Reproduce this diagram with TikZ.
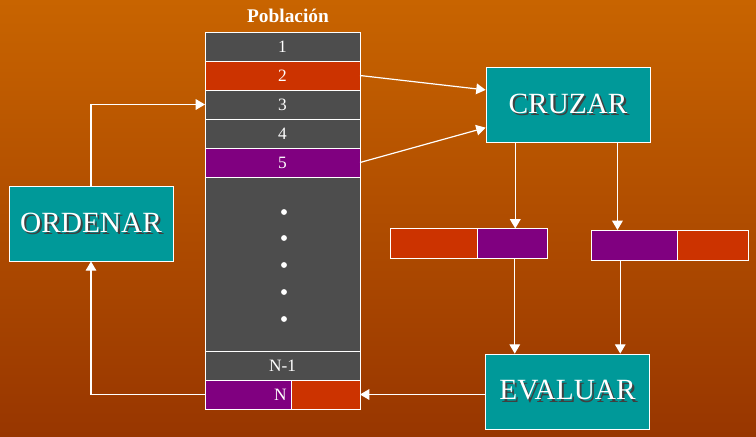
\documentclass[tikz,border=0pt]{standalone}
\usepackage{fontspec}
\setmainfont{Liberation Serif}
\usetikzlibrary{arrows.meta,positioning,calc}
\definecolor{bgtop}{HTML}{C86400}
\definecolor{bgbot}{HTML}{983600}
\definecolor{slate}{HTML}{4D4D4D}
\definecolor{genred}{HTML}{CC3300}
\definecolor{genpurple}{HTML}{800080}
\definecolor{opteal}{HTML}{009999}
\newcommand{\shadowed}[1]{\makebox[0pt][l]{\hspace{1.6pt}\raisebox{-1.6pt}{\textcolor{black!75}{#1}}}#1}
\tikzset{
  cell/.style={draw=white, fill=slate, line width=0.6pt, minimum width=116.25pt,
               minimum height=21.75pt, inner sep=0pt, outer sep=0pt, text=white,
               font=\fontsize{13}{15}\selectfont},
  opbox/.style={draw=white, fill=opteal, line width=0.6pt, minimum width=123pt,
                minimum height=56pt, inner sep=0pt, text=white,
                font=\fontsize{22}{26}\selectfont},
  gene/.style={draw=white, line width=0.6pt, minimum height=22.5pt, inner sep=0pt,
               outer sep=0pt},
  flow/.style={-{Triangle[length=7pt,width=8pt]}, draw=white, line width=0.9pt}
}
\begin{document}
\begin{tikzpicture}[x=0.75pt,y=-0.75pt]
  \useasboundingbox (0,0) rectangle (756,436);
  \shade[top color=bgtop, bottom color=bgbot] (0,0) rectangle (756,436);

  % population column
  \node[font=\bfseries\fontsize{14.5}{17}\selectfont, text=white] (title) at (288,16) {Población};
  \node[cell] (r1) at (282.5,46.5) {1};
  \node[cell, fill=genred, below=0pt of r1] (r2) {2};
  \node[cell, below=0pt of r2] (r3) {3};
  \node[cell, below=0pt of r3] (r4) {4};
  \node[cell, fill=genpurple, below=0pt of r4] (r5) {5};
  \node[cell, minimum height=130.5pt, below=0pt of r5] (pool) {};
  \foreach \y in {212,238,265,292,319} {
    \fill[white] (284,\y) circle (2.2pt);
  }
  \node[cell, below=0pt of pool] (rN1) {N-1};
  \node[cell, fill=genpurple, minimum width=64.5pt, text width=58pt, align=right,
        anchor=north west] (rNa) at (rN1.south west) {N};
  \node[cell, fill=genred, minimum width=51.75pt, right=0pt of rNa] (rNb) {};

  % operators
  \node[opbox] (cruzar) at (568,105) {\shadowed{CRUZAR}};
  \node[opbox, minimum height=56.25pt] (evaluar) at (567.5,391.5) {\shadowed{EVALUAR}};
  \node[opbox, minimum height=56.25pt] (ordenar) at (91,223.5) {\shadowed{ORDENAR}};

  % offspring
  \node[gene, fill=genred, minimum width=65.25pt] (c1a) at (433.5,243.5) {};
  \node[gene, fill=genpurple, minimum width=52.5pt, right=0pt of c1a] (c1b) {};
  \node[gene, fill=genpurple, minimum width=64.5pt] (c2a) at (634,245) {};
  \node[gene, fill=genred, minimum width=53.25pt, right=0pt of c2a] (c2b) {};

  % connectors
  \draw[flow] (r2.east) -- ($(cruzar.north west)!0.3!(cruzar.south west)$);
  \draw[flow] (r5.east) -- ($(cruzar.north west)!0.8!(cruzar.south west)$);
  \coordinate (cl) at ($(cruzar.south west)!0.18!(cruzar.south east)$);
  \coordinate (cr) at ($(cruzar.south west)!0.80!(cruzar.south east)$);
  \draw[flow] (cl) -- (cl |- c1b.north);
  \draw[flow] (cr) -- (cr |- c2a.north);
  \coordinate (el) at ($(evaluar.north west)!0.18!(evaluar.north east)$);
  \coordinate (er) at ($(evaluar.north west)!0.82!(evaluar.north east)$);
  \draw[flow] (el |- c1b.south) -- (el);
  \draw[flow] (er |- c2a.south) -- (er);
  \draw[flow] (evaluar.west |- rNb.east) -- (rNb.east);
  \draw[flow] (rNa.west) -| (ordenar.south);
  \draw[flow] (ordenar.north) |- (r3.west);
\end{tikzpicture}
\end{document}
